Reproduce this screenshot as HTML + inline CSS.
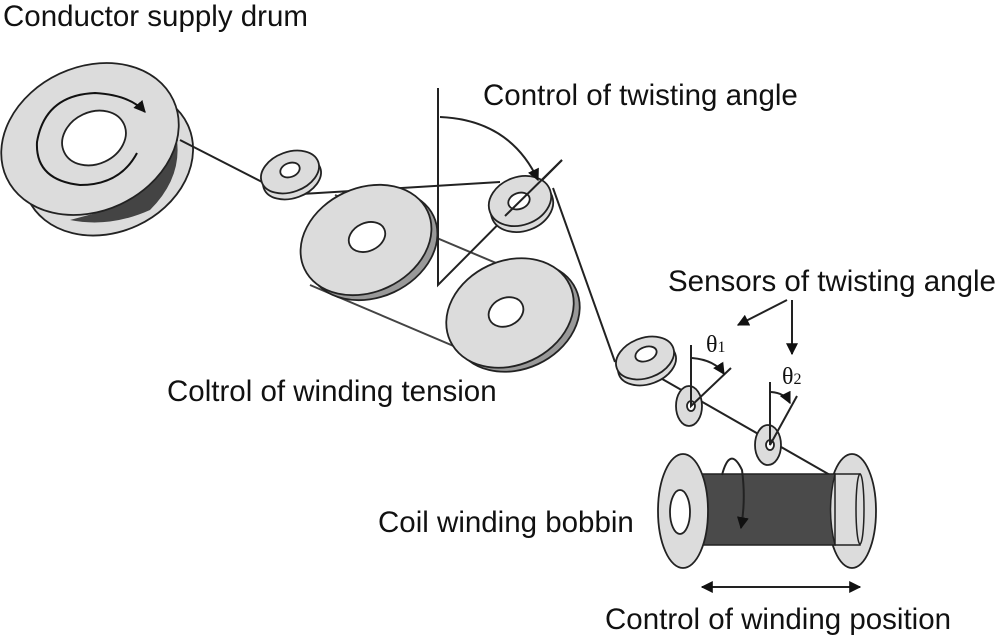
<!DOCTYPE html>
<html><head><meta charset="utf-8"><style>
html,body{margin:0;padding:0;background:#fff;}
svg{display:block;}
text{font-family:"Liberation Sans",sans-serif;font-size:29.5px;fill:#111;}
.g{fill:#dcdcdc;stroke:#222;stroke-width:1.8;}
.h{fill:#fff;stroke:#222;stroke-width:1.8;}
.l{fill:none;stroke:#222;stroke-width:2;}
</style></head><body>
<svg width="1005" height="636" viewBox="0 0 1005 636" xmlns="http://www.w3.org/2000/svg">
<defs>
<marker id="ar" viewBox="0 0 10 10" refX="9" refY="5" markerWidth="6" markerHeight="6" orient="auto-start-reverse"><path d="M0,0 L10,5 L0,10 z" fill="#111"/></marker>
</defs>
<text x="3" y="26">Conductor supply drum</text>
<text x="483" y="105">Control of twisting angle</text>
<text x="668" y="291">Sensors of twisting angle</text>
<text x="167" y="401">Coltrol of winding tension</text>
<text x="378" y="532">Coil winding bobbin</text>
<text x="605" y="629">Control of winding position</text>

<!-- supply drum -->
<ellipse class="g" cx="108" cy="162" rx="88" ry="70" transform="rotate(-25 108 162)"/>
<path d="M172,120 Q190,170 150,210 Q110,228 70,220 L100,212 Q160,195 178,140 Z" fill="#444"/>
<ellipse class="g" cx="90" cy="139" rx="92" ry="72" transform="rotate(-25 90 139)"/>
<ellipse class="h" cx="94" cy="138" rx="33" ry="26" transform="rotate(-25 94 138)"/>
<path class="l" stroke-width="3" d="M137,153 Q120,185 80,185 Q35,180 37,142 Q45,95 95,93 Q130,95 145,112" marker-end="url(#ar)" style="stroke:#111"/>

<!-- thread -->
<path class="l" d="M180,140 L268,185 M285,195 L500,182 M553,188 L615,362 M650,372 L830,475"/>

<!-- small pulley 1 -->
<ellipse class="g" cx="292" cy="178" rx="30" ry="20" transform="rotate(-20 292 178)"/>
<ellipse class="g" cx="290" cy="172" rx="30" ry="20" transform="rotate(-20 290 172)"/>
<ellipse class="h" cx="290" cy="170" rx="10" ry="7" transform="rotate(-20 290 170)"/>

<!-- belt -->
<path class="l" stroke-width="5" d="M335,195 L560,290 M310,285 L510,370" style="stroke:#444"/>
<!-- big pulleys -->
<ellipse class="g" cx="372" cy="245" rx="68" ry="52" transform="rotate(-25 372 245)" style="fill:#999"/>
<ellipse class="g" cx="366" cy="240" rx="68" ry="52" transform="rotate(-25 366 240)"/>
<ellipse class="h" cx="367" cy="237" rx="19" ry="14" transform="rotate(-25 367 237)"/>
<ellipse class="g" cx="516" cy="317" rx="66" ry="52" transform="rotate(-25 516 317)" style="fill:#999"/>
<ellipse class="g" cx="510" cy="313" rx="66" ry="52" transform="rotate(-25 510 313)"/>
<ellipse class="h" cx="506" cy="312" rx="18" ry="14" transform="rotate(-25 506 312)"/>

<!-- pulley 3 with angle -->
<path class="l" d="M438,88 L438,285 L562,160"/>
<ellipse class="g" cx="522" cy="207" rx="32" ry="24" transform="rotate(-20 522 207)"/>
<ellipse class="g" cx="520" cy="201" rx="32" ry="24" transform="rotate(-20 520 201)"/>
<ellipse class="h" cx="519" cy="201" rx="11" ry="8" transform="rotate(-20 519 201)"/>
<line class="l" x1="505" y1="216" x2="562" y2="160"/>
<path class="l" stroke-width="2.5" d="M440,117 Q510,120 538,180" marker-end="url(#ar)"/>

<!-- pulley 4 -->
<ellipse class="g" cx="647" cy="364" rx="30" ry="20" transform="rotate(-20 647 364)"/>
<ellipse class="g" cx="645" cy="358" rx="30" ry="20" transform="rotate(-20 645 358)"/>
<ellipse class="h" cx="646" cy="354" rx="11" ry="7" transform="rotate(-20 646 354)"/>

<!-- sensors -->
<ellipse class="g" cx="689" cy="406" rx="13" ry="20"/>
<ellipse class="h" cx="691" cy="406" rx="4" ry="5"/>
<path class="l" d="M691,345 L691,406 L731,368"/>
<path class="l" d="M692,358 Q715,360 724,374" marker-end="url(#ar)"/>
<text x="706" y="352" style="font-family:'Liberation Serif',serif;font-size:24px">θ<tspan font-size="16">1</tspan></text>
<ellipse class="g" cx="768" cy="445" rx="13" ry="20"/>
<ellipse class="h" cx="770" cy="445" rx="4" ry="5"/>
<path class="l" d="M770,382 L770,445 L797,396"/>
<path class="l" d="M771,392 Q785,393 790,403" marker-end="url(#ar)"/>
<text x="782" y="384" style="font-family:'Liberation Serif',serif;font-size:24px">θ<tspan font-size="16">2</tspan></text>
<path class="l" stroke-width="3" d="M787,300 L738,325" marker-end="url(#ar)"/>
<path class="l" stroke-width="3" d="M792,300 L792,354" marker-end="url(#ar)"/>

<!-- bobbin -->
<ellipse class="g" cx="852" cy="511" rx="24" ry="57"/>
<rect x="835" y="474" width="25" height="71" fill="#dcdcdc" stroke="#222" stroke-width="1.5"/>
<ellipse cx="860" cy="509" rx="4" ry="35" fill="#dcdcdc" stroke="#222" stroke-width="1.5"/>
<path d="M700,474 L835,474 Q826,510 835,545 L700,545 Z" fill="#4a4a4a" stroke="#222" stroke-width="1.5"/>
<ellipse class="g" cx="683" cy="511" rx="25" ry="57"/>
<ellipse class="h" cx="680" cy="512" rx="10" ry="22"/>
<path class="l" stroke-width="3" d="M722,475 Q730,445 742,470 Q746,500 741,528" marker-end="url(#ar)"/>
<path class="l" stroke-width="3" d="M702,587 L860,587" marker-start="url(#ar)" marker-end="url(#ar)"/>
</svg>
</body></html>
